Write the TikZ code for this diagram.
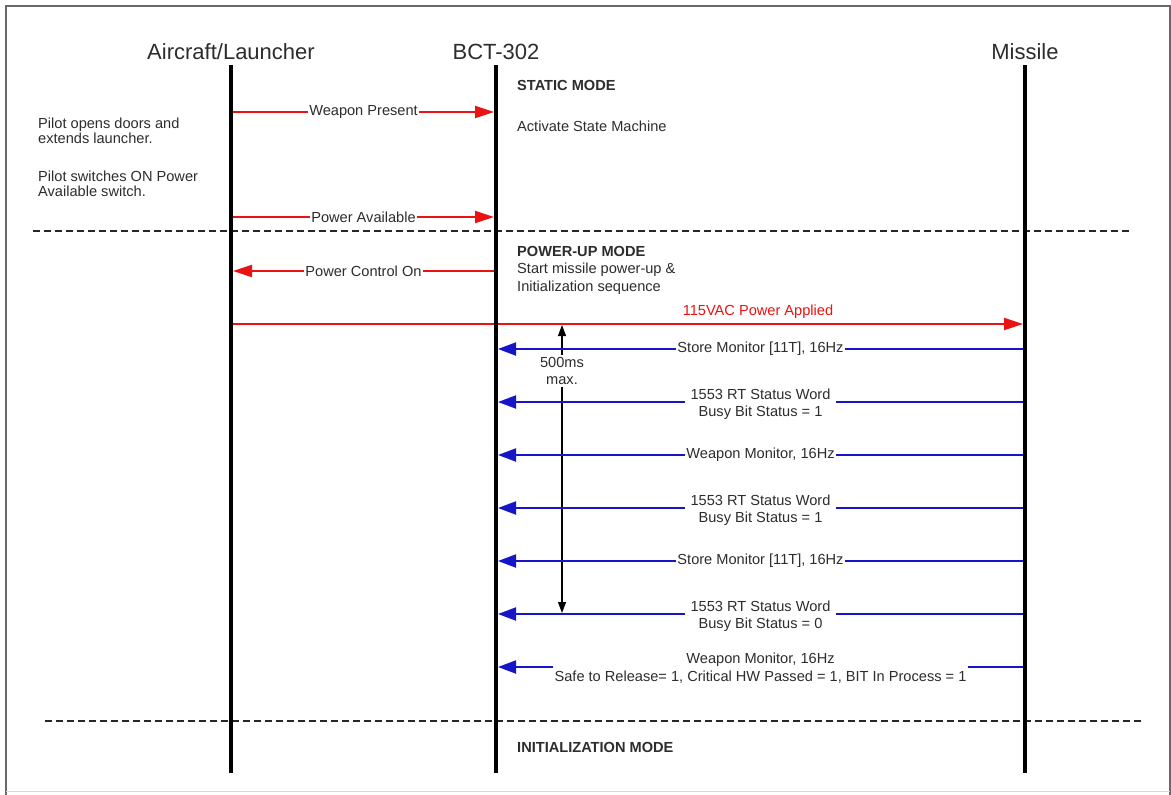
\documentclass[tikz,border=0pt]{standalone}
\usepackage{fontspec}
\setmainfont{Liberation Sans}
\usetikzlibrary{arrows.meta}
\definecolor{txt}{RGB}{45,45,45}
\definecolor{msgred}{RGB}{235,18,18}
\definecolor{msgblue}{RGB}{22,22,200}
\definecolor{framec}{RGB}{105,105,105}
\begin{document}
\begin{tikzpicture}[x=1pt,y=-1pt,
  every node/.style={text=txt, font=\fontsize{14.6}{17.5}\selectfont, inner sep=0pt},
  title/.style={font=\fontsize{22}{26}\selectfont, anchor=base},
  lifeline/.style={line width=4pt, black},
  modetxt/.style={font=\fontsize{14.6}{17.5}\selectfont\bfseries, anchor=base west},
  note/.style={anchor=base west},
  redmsg/.style={draw=msgred, line width=2pt, shorten >=2pt, -{Triangle[length=19pt,width=12pt]}},
  bluemsg/.style={draw=msgblue, line width=2pt, shorten >=2pt, -{Triangle[length=18pt,width=13pt]}},
  lbl/.style={fill=white, inner xsep=1.5pt, inner ysep=1pt},
  lbltwo/.style={fill=white, inner xsep=6pt, inner ysep=1pt, align=center, yshift=-2pt},
  lblwide/.style={fill=white, inner xsep=2pt, inner ysep=1pt, align=center, yshift=-1pt},
  sepline/.style={line width=1.4pt, dash pattern=on 7pt off 4pt, black!85},
  timing/.style={line width=1.2pt, black}
]
\useasboundingbox (0,0) rectangle (1171,795);
\fill[white] (0,0) rectangle (1171,795);
% frame
\draw[draw=framec, line width=1.6pt] (6,795) -- (6,6) -- (1170,6) -- (1170,795);
\draw[draw=black!15, line width=1pt] (6,791) -- (1170,791);

% titles
\node[title] (tA) at (231,59) {Aircraft/Launcher};
\node[title] (tB) at (496,59) {BCT-302};
\node[title] (tM) at (1025,59) {Missile};

% lifeline ends
\coordinate (A0) at (231,65); \coordinate (A1) at (231,773);
\coordinate (B0) at (496,65); \coordinate (B1) at (496,773);
\coordinate (M0) at (1025,65); \coordinate (M1) at (1025,773);

% separators
\coordinate (s1a) at (33,231); \coordinate (s1b) at (1130,231);
\coordinate (s2a) at (45,721); \coordinate (s2b) at (1143,721);
\draw[sepline] (s1a) -- (s1b);
\draw[sepline] (s2a) -- (s2b);

% static mode
\node[modetxt] (mStatic) at (517,90) {STATIC MODE};
\node[note] (aSM) at (517,131) {Activate State Machine};
\node[note] (n1a) at (38,128.5) {Pilot opens doors and};
\node[note] (n1b) at (38,143.5) {extends launcher.};
\node[note] (n2a) at (38,181) {Pilot switches ON Power};
\node[note] (n2b) at (38,196) {Available switch.};

\coordinate (wpA) at (231,112); \coordinate (wpB) at (496,112);
\draw[redmsg] (wpA) -- node[lbl] (lWP) {Weapon Present} (wpB);
\coordinate (paA) at (231,217); \coordinate (paB) at (496,217);
\draw[redmsg] (paA) -- node[lbl] (lPA) {Power Available} (paB);

% power-up mode
\node[modetxt] (mPower) at (517,256) {POWER-UP MODE};
\node[note] (pu1) at (517,273) {Start missile power-up \&};
\node[note] (pu2) at (517,291) {Initialization sequence};

\coordinate (pcB) at (496,271); \coordinate (pcA) at (231,271);
\draw[redmsg] (pcB) -- node[lbl] (lPC) {Power Control On} (pcA);

\coordinate (vA) at (231,324); \coordinate (vM) at (1025,324);
\draw[redmsg] (vA) -- (vM);
\node[anchor=base, text=msgred] (l115) at (758,315) {115VAC Power Applied};

% timing
\coordinate (tU) at (562,325); \coordinate (tD) at (562,613);
\draw[timing, {Triangle[length=11pt,width=8pt]}-{Triangle[length=11pt,width=8pt]}] (tU) -- (tD);

% blue messages
\coordinate (b1M) at (1025,349); \coordinate (b1B) at (496,349);
\draw[bluemsg] (b1M) -- node[lbl] (lb1) {Store Monitor [11T], 16Hz} (b1B);
\coordinate (b2M) at (1025,402); \coordinate (b2B) at (496,402);
\draw[bluemsg] (b2M) -- node[lbltwo] (lb2) {1553 RT Status Word\\Busy Bit Status = 1} (b2B);
\coordinate (b3M) at (1025,455); \coordinate (b3B) at (496,455);
\draw[bluemsg] (b3M) -- node[lbl] (lb3) {Weapon Monitor, 16Hz} (b3B);
\coordinate (b4M) at (1025,508); \coordinate (b4B) at (496,508);
\draw[bluemsg] (b4M) -- node[lbltwo] (lb4) {1553 RT Status Word\\Busy Bit Status = 1} (b4B);
\coordinate (b5M) at (1025,561); \coordinate (b5B) at (496,561);
\draw[bluemsg] (b5M) -- node[lbl] (lb5) {Store Monitor [11T], 16Hz} (b5B);
\coordinate (b6M) at (1025,614); \coordinate (b6B) at (496,614);
\draw[bluemsg] (b6M) -- node[lbltwo] (lb6) {1553 RT Status Word\\Busy Bit Status = 0} (b6B);
\coordinate (b7M) at (1025,667); \coordinate (b7B) at (496,667);
\draw[bluemsg] (b7M) -- node[lblwide] (lb7) {Weapon Monitor, 16Hz\\Safe to Release= 1, Critical HW Passed = 1, BIT In Process = 1} (b7B);

\node[fill=white, align=center, inner xsep=2pt, inner ysep=2pt] (l500) at (562,371) {500ms\\max.};

% initialization mode
\node[modetxt] (mInit) at (517,752) {INITIALIZATION MODE};

% lifelines
\draw[lifeline] (A0) -- (A1);
\draw[lifeline] (B0) -- (B1);
\draw[lifeline] (M0) -- (M1);
\end{tikzpicture}
\end{document}
